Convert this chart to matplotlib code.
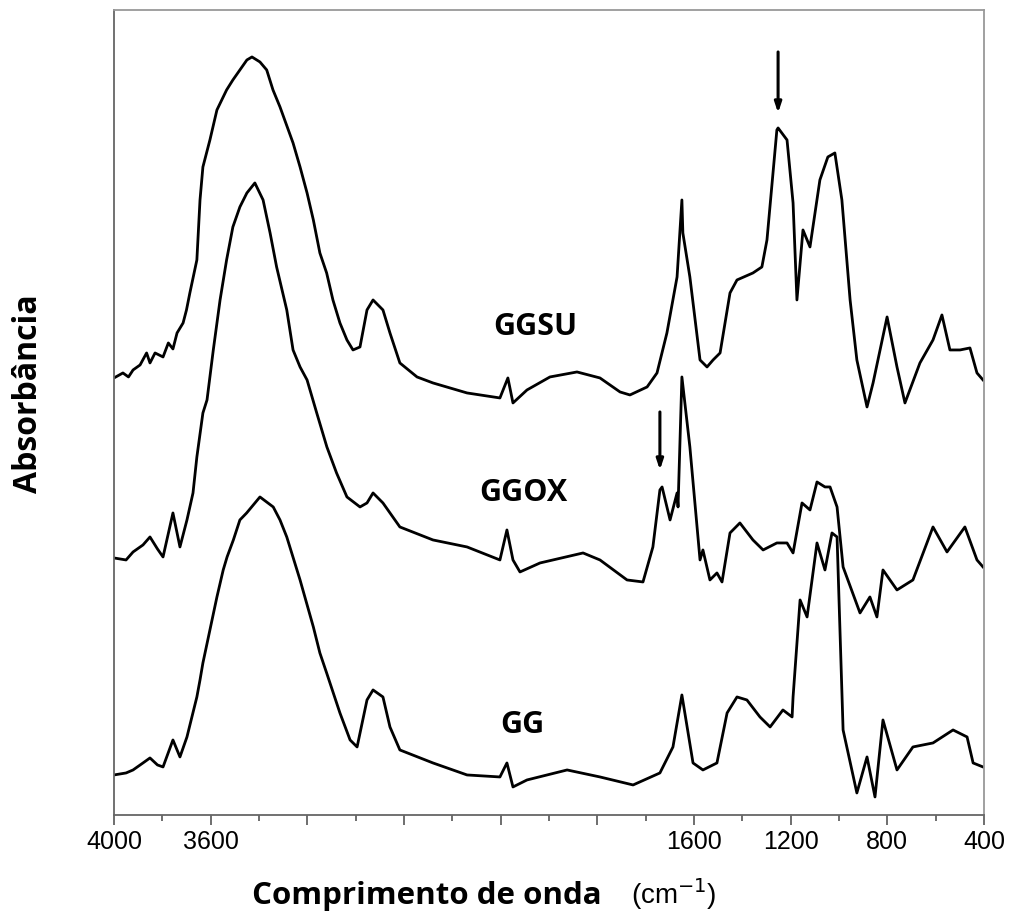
import numpy as np
import matplotlib.pyplot as plt

# FTIR spectra (wavenumber in cm-1, absorbance in arbitrary offset units)
wn_ggsu = [4000, 3963, 3940, 3921, 3892, 3865, 3851, 3830, 3797, 3775, 3756, 3739,
           3714, 3700, 3686, 3657, 3644, 3632, 3603, 3574, 3534, 3508, 3479, 3450,
           3429, 3396, 3368, 3342, 3313, 3259, 3230, 3201, 3175, 3148, 3120, 3094,
           3065, 3036, 3011, 2982, 2953, 2928, 2887, 2858, 2817, 2746, 2680, 2539,
           2403, 2370, 2349, 2291, 2196, 2084, 1989, 1906, 1865, 1794, 1753, 1712,
           1670, 1650, 1646, 1617, 1575, 1546, 1521, 1492, 1451, 1422, 1356, 1319,
           1298, 1257, 1252, 1215, 1190, 1174, 1149, 1120, 1079, 1046, 1017, 988,
           954, 926, 884, 859, 801, 760, 727, 665, 611, 574, 541, 499, 458, 429, 404]
abs_ggsu = [4.37, 4.42, 4.38, 4.45, 4.50, 4.62, 4.52, 4.62, 4.58, 4.72, 4.66, 4.82,
            4.92, 5.05, 5.22, 5.55, 6.15, 6.48, 6.75, 7.05, 7.25, 7.35, 7.45, 7.55,
            7.58, 7.53, 7.45, 7.25, 7.08, 6.72, 6.48, 6.22, 5.95, 5.62, 5.42, 5.15,
            4.92, 4.75, 4.65, 4.68, 5.05, 5.15, 5.05, 4.82, 4.52, 4.38, 4.32, 4.22,
            4.17, 4.37, 4.12, 4.25, 4.38, 4.43, 4.37, 4.23, 4.20, 4.28, 4.42, 4.82,
            5.38, 6.15, 5.82, 5.38, 4.55, 4.48, 4.55, 4.62, 5.22, 5.35, 5.42, 5.48,
            5.75, 6.85, 6.87, 6.75, 6.12, 5.15, 5.85, 5.68, 6.35, 6.58, 6.62, 6.15,
            5.15, 4.55, 4.08, 4.32, 4.98, 4.48, 4.12, 4.52, 4.75, 5.00, 4.65, 4.65,
            4.67, 4.42, 4.35]

wn_ggox = [4000, 3950, 3921, 3880, 3851, 3820, 3797, 3756, 3727, 3698, 3673, 3657,
           3632, 3615, 3589, 3561, 3534, 3508, 3479, 3450, 3417, 3383, 3354, 3327,
           3285, 3259, 3230, 3201, 3161, 3119, 3079, 3036, 2982, 2953, 2928, 2887,
           2817, 2680, 2539, 2403, 2374, 2349, 2320, 2237, 2059, 1989, 1877, 1811,
           1770, 1741, 1732, 1699, 1670, 1666, 1650, 1617, 1575, 1563, 1534, 1505,
           1484, 1451, 1410, 1356, 1314, 1257, 1215, 1190, 1153, 1120, 1091, 1058,
           1037, 1008, 983, 913, 872, 843, 818, 760, 694, 611, 553, 479, 429, 404]
abs_ggox = [2.57, 2.55, 2.63, 2.70, 2.78, 2.66, 2.58, 3.02, 2.68, 2.95, 3.22, 3.58,
            4.02, 4.15, 4.65, 5.15, 5.55, 5.88, 6.08, 6.22, 6.32, 6.15, 5.82, 5.48,
            5.05, 4.65, 4.48, 4.35, 4.02, 3.68, 3.42, 3.18, 3.08, 3.12, 3.22, 3.12,
            2.88, 2.75, 2.68, 2.55, 2.85, 2.55, 2.43, 2.52, 2.62, 2.55, 2.35, 2.33,
            2.68, 3.25, 3.28, 2.95, 3.22, 3.08, 4.38, 3.68, 2.55, 2.65, 2.35, 2.42,
            2.33, 2.82, 2.92, 2.75, 2.65, 2.72, 2.72, 2.62, 3.12, 3.05, 3.33, 3.28,
            3.28, 3.08, 2.48, 2.02, 2.18, 1.98, 2.45, 2.25, 2.35, 2.88, 2.63, 2.88,
            2.55, 2.48]

wn_gg = [4000, 3950, 3921, 3880, 3851, 3820, 3797, 3756, 3727, 3698, 3657, 3644,
         3632, 3603, 3574, 3548, 3532, 3506, 3479, 3451, 3396, 3341, 3313, 3285,
         3230, 3175, 3148, 3120, 3065, 3023, 2994, 2953, 2928, 2887, 2858, 2817,
         2680, 2539, 2403, 2374, 2349, 2291, 2125, 1989, 1852, 1741, 1687, 1650,
         1604, 1563, 1505, 1463, 1422, 1381, 1327, 1285, 1232, 1194, 1190, 1161,
         1132, 1091, 1058, 1029, 1008, 983, 926, 884, 851, 818, 760, 694, 611, 528,
         470, 445, 404]
abs_gg = [0.40, 0.42, 0.45, 0.52, 0.57, 0.50, 0.48, 0.75, 0.58, 0.78, 1.18, 1.35,
          1.52, 1.85, 2.18, 2.45, 2.58, 2.75, 2.95, 3.02, 3.18, 3.08, 2.95, 2.78,
          2.35, 1.88, 1.62, 1.42, 1.02, 0.75, 0.68, 1.15, 1.25, 1.18, 0.88, 0.65,
          0.52, 0.40, 0.38, 0.52, 0.28, 0.35, 0.45, 0.38, 0.30, 0.42, 0.68, 1.20,
          0.52, 0.45, 0.52, 1.02, 1.18, 1.15, 0.98, 0.88, 1.05, 0.98, 1.18, 2.15,
          1.98, 2.72, 2.45, 2.82, 2.78, 0.85, 0.22, 0.58, 0.18, 0.95, 0.45, 0.68,
          0.72, 0.85, 0.78, 0.52, 0.48]

labels = ['GGSU', 'GGOX', 'GG']
label_pos = [(2258, 4.88), (2308, 3.22), (2312, 0.90)]
arrow_x = [1252, 1741]
arrow_y = [(7.63, 7.02), (4.03, 3.45)]

shown_ticks = {4000: '4000', 3600: '3600', 1600: '1600', 1200: '1200',
               800: '800', 400: '400'}

fig = plt.figure(figsize=(10.14, 9.22), dpi=100)
ax = fig.add_axes([0.1124, 0.1161, 0.8580, 0.8731])

for wn, ab in [(wn_ggsu, abs_ggsu), (wn_ggox, abs_ggox), (wn_gg, abs_gg)]:
    ax.plot(wn, ab, color='black', lw=2.0, solid_joinstyle='round')

for name, (x, y) in zip(labels, label_pos):
    ax.text(x, y, name, ha='center', va='center', fontsize=22,
            fontweight='bold', family='Open Sans')

for x, (y0, y1) in zip(arrow_x, arrow_y):
    ax.annotate('', xy=(x, y1), xytext=(x, y0),
                arrowprops=dict(arrowstyle='-|>,head_length=0.6,head_width=0.2',
                                color='black', lw=2.2, shrinkA=0, shrinkB=0))

ax.set_xlim(4000, 400)
ax.set_ylim(0, 8.05)

major = np.arange(4000, 399, -400)
ax.set_xticks(major)
ax.set_xticklabels([shown_ticks.get(int(t), '') for t in major],
                   family='Liberation Sans', fontsize=18)
ax.set_xticks(np.arange(3800, 400, -400), minor=True)
ax.tick_params(axis='x', which='major', direction='out', length=7, width=1.2,
               color='#555555', pad=4)
ax.tick_params(axis='x', which='minor', direction='out', length=4.5, width=1.2,
               color='#555555')
ax.set_yticks([])

for side in ['left', 'bottom']:
    ax.spines[side].set_color('#666666')
    ax.spines[side].set_linewidth(1.3)
for side in ['top', 'right']:
    ax.spines[side].set_color('#999999')
    ax.spines[side].set_linewidth(1.3)

fig.text(0.249, 0.019, 'Comprimento de onda', family='Open Sans',
         fontweight='bold', fontsize=22.5, ha='left', va='baseline')
fig.text(0.622, 0.019, '(cm$^{-1}$)', family='Liberation Sans',
         fontsize=20, ha='left', va='baseline')
fig.text(0.028, 0.573, 'Absorbância', family='Open Sans', fontweight='bold',
         fontsize=23, rotation=90, ha='center', va='center')

fig.savefig('out.png', dpi=100)
